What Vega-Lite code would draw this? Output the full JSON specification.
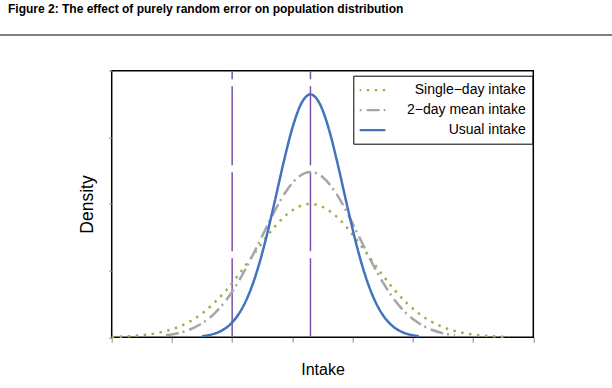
{
  "$schema": "https://vega.github.io/schema/vega-lite/v6.json",
  "width": 421.6,
  "height": 266.6,
  "autosize": "none",
  "padding": {"left": 111.7, "top": 70.7, "right": 78.7, "bottom": 50.7},
  "background": "white",
  "title": {
    "text": "Figure 2:  The effect of purely random error on population distribution",
    "anchor": "start",
    "frame": "group",
    "dx": -103.7,
    "dy": 11,
    "offset": 20,
    "baseline": "alphabetic",
    "font": "Liberation Sans",
    "fontSize": 12,
    "fontWeight": "bold",
    "color": "#000000"
  },
  "datasets": {
    "curves": [
      {"series": "Single−day intake", "intake": 0.0, "density": 0.012},
      {"series": "Single−day intake", "intake": 0.1, "density": 0.017},
      {"series": "Single−day intake", "intake": 0.3, "density": 0.033},
      {"series": "Single−day intake", "intake": 0.5, "density": 0.062},
      {"series": "Single−day intake", "intake": 0.7, "density": 0.110},
      {"series": "Single−day intake", "intake": 0.9, "density": 0.187},
      {"series": "Single−day intake", "intake": 1.1, "density": 0.306},
      {"series": "Single−day intake", "intake": 1.3, "density": 0.477},
      {"series": "Single−day intake", "intake": 1.5, "density": 0.715},
      {"series": "Single−day intake", "intake": 1.7, "density": 1.026},
      {"series": "Single−day intake", "intake": 1.9, "density": 1.412},
      {"series": "Single−day intake", "intake": 2.1, "density": 1.861},
      {"series": "Single−day intake", "intake": 2.3, "density": 2.351},
      {"series": "Single−day intake", "intake": 2.5, "density": 2.847},
      {"series": "Single−day intake", "intake": 2.7, "density": 3.304},
      {"series": "Single−day intake", "intake": 2.9, "density": 3.674},
      {"series": "Single−day intake", "intake": 3.1, "density": 3.916},
      {"series": "Single−day intake", "intake": 3.3, "density": 4.000},
      {"series": "Single−day intake", "intake": 3.5, "density": 3.916},
      {"series": "Single−day intake", "intake": 3.7, "density": 3.674},
      {"series": "Single−day intake", "intake": 3.9, "density": 3.304},
      {"series": "Single−day intake", "intake": 4.1, "density": 2.847},
      {"series": "Single−day intake", "intake": 4.3, "density": 2.351},
      {"series": "Single−day intake", "intake": 4.5, "density": 1.861},
      {"series": "Single−day intake", "intake": 4.7, "density": 1.412},
      {"series": "Single−day intake", "intake": 4.9, "density": 1.026},
      {"series": "Single−day intake", "intake": 5.1, "density": 0.715},
      {"series": "Single−day intake", "intake": 5.3, "density": 0.477},
      {"series": "Single−day intake", "intake": 5.5, "density": 0.306},
      {"series": "Single−day intake", "intake": 5.7, "density": 0.187},
      {"series": "Single−day intake", "intake": 5.9, "density": 0.110},
      {"series": "Single−day intake", "intake": 6.1, "density": 0.062},
      {"series": "Single−day intake", "intake": 6.3, "density": 0.033},
      {"series": "Single−day intake", "intake": 6.5, "density": 0.017},
      {"series": "Single−day intake", "intake": 6.6, "density": 0.012},
      {"series": "2−day mean intake", "intake": 0.9, "density": 0.062},
      {"series": "2−day mean intake", "intake": 1.1, "density": 0.124},
      {"series": "2−day mean intake", "intake": 1.3, "density": 0.235},
      {"series": "2−day mean intake", "intake": 1.5, "density": 0.420},
      {"series": "2−day mean intake", "intake": 1.7, "density": 0.705},
      {"series": "2−day mean intake", "intake": 1.9, "density": 1.114},
      {"series": "2−day mean intake", "intake": 2.1, "density": 1.655},
      {"series": "2−day mean intake", "intake": 2.3, "density": 2.315},
      {"series": "2−day mean intake", "intake": 2.5, "density": 3.045},
      {"series": "2−day mean intake", "intake": 2.7, "density": 3.770},
      {"series": "2−day mean intake", "intake": 2.9, "density": 4.391},
      {"series": "2−day mean intake", "intake": 3.1, "density": 4.811},
      {"series": "2−day mean intake", "intake": 3.3, "density": 4.960},
      {"series": "2−day mean intake", "intake": 3.5, "density": 4.811},
      {"series": "2−day mean intake", "intake": 3.7, "density": 4.391},
      {"series": "2−day mean intake", "intake": 3.9, "density": 3.770},
      {"series": "2−day mean intake", "intake": 4.1, "density": 3.045},
      {"series": "2−day mean intake", "intake": 4.3, "density": 2.315},
      {"series": "2−day mean intake", "intake": 4.5, "density": 1.655},
      {"series": "2−day mean intake", "intake": 4.7, "density": 1.114},
      {"series": "2−day mean intake", "intake": 4.9, "density": 0.705},
      {"series": "2−day mean intake", "intake": 5.1, "density": 0.420},
      {"series": "2−day mean intake", "intake": 5.3, "density": 0.235},
      {"series": "2−day mean intake", "intake": 5.5, "density": 0.124},
      {"series": "2−day mean intake", "intake": 5.7, "density": 0.062},
      {"series": "Usual intake", "intake": 1.5, "density": 0.034},
      {"series": "Usual intake", "intake": 1.65, "density": 0.081},
      {"series": "Usual intake", "intake": 1.8, "density": 0.177},
      {"series": "Usual intake", "intake": 1.95, "density": 0.358},
      {"series": "Usual intake", "intake": 2.1, "density": 0.675},
      {"series": "Usual intake", "intake": 2.25, "density": 1.178},
      {"series": "Usual intake", "intake": 2.4, "density": 1.911},
      {"series": "Usual intake", "intake": 2.55, "density": 2.877},
      {"series": "Usual intake", "intake": 2.7, "density": 4.021},
      {"series": "Usual intake", "intake": 2.85, "density": 5.216},
      {"series": "Usual intake", "intake": 3.0, "density": 6.282},
      {"series": "Usual intake", "intake": 3.15, "density": 7.024},
      {"series": "Usual intake", "intake": 3.3, "density": 7.290},
      {"series": "Usual intake", "intake": 3.45, "density": 7.024},
      {"series": "Usual intake", "intake": 3.6, "density": 6.282},
      {"series": "Usual intake", "intake": 3.75, "density": 5.216},
      {"series": "Usual intake", "intake": 3.9, "density": 4.021},
      {"series": "Usual intake", "intake": 4.05, "density": 2.877},
      {"series": "Usual intake", "intake": 4.2, "density": 1.911},
      {"series": "Usual intake", "intake": 4.35, "density": 1.178},
      {"series": "Usual intake", "intake": 4.5, "density": 0.675},
      {"series": "Usual intake", "intake": 4.65, "density": 0.358},
      {"series": "Usual intake", "intake": 4.8, "density": 0.177},
      {"series": "Usual intake", "intake": 4.95, "density": 0.081},
      {"series": "Usual intake", "intake": 5.1, "density": 0.034}
    ],
    "refs": [
      {"intake": 2.0},
      {"intake": 3.3}
    ]
  },
  "layer": [
    {
      "data": {"name": "refs"},
      "mark": {"type": "rule", "color": "#7a52ab", "strokeWidth": 1.5, "strokeDash": [79, 7]},
      "encoding": {
        "x": {"field": "intake", "type": "quantitative", "title": "Intake"},
        "y": {"datum": 0, "type": "quantitative", "title": "Density"},
        "y2": {"datum": 8}
      }
    },
    {
      "data": {"name": "curves"},
      "mark": {"type": "line", "interpolate": "monotone", "strokeWidth": 2.5},
      "encoding": {
        "x": {
          "field": "intake", "type": "quantitative", "title": "Intake",
          "scale": {"domain": [0, 7], "nice": false, "zero": false},
          "axis": {"values": [0, 1, 2, 3, 4, 5, 6, 7], "tickSize": 5, "titleFontSize": 16, "titlePadding": 19}
        },
        "y": {
          "field": "density", "type": "quantitative", "title": "Density",
          "scale": {"domain": [0, 8], "nice": false, "zero": false},
          "axis": {"values": [0, 1, 2, 3, 4, 5, 6, 7, 8], "tickSize": 3, "titleFontSize": 17.5, "titlePadding": 12}
        },
        "color": {
          "field": "series", "type": "nominal",
          "scale": {
            "domain": ["Single−day intake", "2−day mean intake", "Usual intake"],
            "range": ["#92b84a", "#a6a6a6", "#4373bf"]
          },
          "legend": {
            "title": null,
            "orient": "none",
            "legendX": 241.6,
            "legendY": 5,
            "strokeColor": "#000000",
            "fillColor": "#ffffff",
            "padding": 6,
            "rowPadding": 4,
            "labelAlign": "right",
            "labelOffset": 149.4,
            "labelFontSize": 14,
            "labelFont": "Liberation Sans",
            "labelColor": "#000000",
            "symbolType": "M-1.16,0H2.51",
            "symbolSize": 196,
            "symbolStrokeWidth": 2.3,
            "symbolDashOffset": 17
          }
        },
        "strokeDash": {
          "field": "series", "type": "nominal",
          "scale": {
            "domain": ["Single−day intake", "2−day mean intake", "Usual intake"],
            "range": [[2.5, 5.5], [13, 4, 2, 5], [1, 0]]
          },
          "legend": null
        }
      }
    },
    {
      "data": {"values": [{}]},
      "mark": {"type": "rule", "color": "#000000", "strokeWidth": 1.2, "clip": false},
      "encoding": {
        "x": {"datum": -1.855, "type": "quantitative", "title": "Intake"},
        "x2": {"datum": 8.307},
        "y": {"datum": 9.071, "type": "quantitative", "title": "Density"}
      }
    }
  ],
  "config": {
    "font": "Liberation Sans",
    "view": {"stroke": "#000000", "strokeWidth": 1.5},
    "axis": {
      "grid": false,
      "domain": false,
      "labels": false,
      "tickColor": "#8c8c8c",
      "tickWidth": 1,
      "titleFont": "Liberation Sans",
      "titleFontWeight": "normal",
      "titleColor": "#000000"
    }
  }
}
